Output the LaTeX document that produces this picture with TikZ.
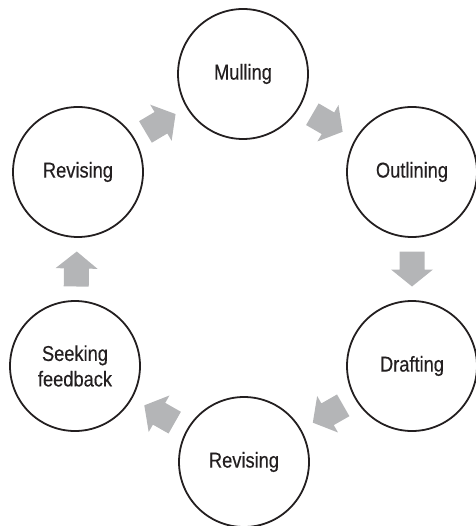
\documentclass[tikz,border=0pt]{standalone}
\usepackage{fontspec}
\setmainfont[FakeStretch=0.85,FakeBold=0.3]{Liberation Sans}
\usetikzlibrary{calc}
\definecolor{arrowgray}{RGB}{180,181,183}
\definecolor{inkdark}{RGB}{35,31,32}
\begin{document}
\begin{tikzpicture}[x=1pt,y=-1pt,
  stage/.style={circle,draw=inkdark,line width=1.8pt,inner sep=0pt,
    minimum size=130pt,align=center,text=inkdark,
    font=\fontsize{21.5}{25.5}\selectfont},
  blockarrow/.pic={\fill[arrowgray] (-17.5,-12.5) -- (0.5,-12.5) -- (0.5,-21)
    -- (17.5,0) -- (0.5,21) -- (0.5,12.5) -- (-17.5,12.5) -- cycle;}]
\useasboundingbox (0,0) rectangle (475,526);

\node[stage] (mull) at (243,74) {Mulling};
\node[stage] (outl) at (412,172) {Outlining};
\node[stage] (draft) at (412,366) {Drafting};
\node[stage] (rev2) at (244,462) {Revising};
\node[stage] (seek) at (75,366) {Seeking\\feedback};
\node[stage] (rev1) at (78,172) {Revising};

% block arrows halfway between consecutive stages, pointing along the cycle
\foreach \a/\b in {rev1/mull, mull/outl, outl/draft, draft/rev2, rev2/seek, seek/rev1}{
  \path let \p1 = ($(\b)-(\a)$), \n1 = {atan2(\y1,\x1)} in
    pic[rotate=\n1] at ($(\a)!0.5!(\b)$) {blockarrow};
}
\end{tikzpicture}
\end{document}
